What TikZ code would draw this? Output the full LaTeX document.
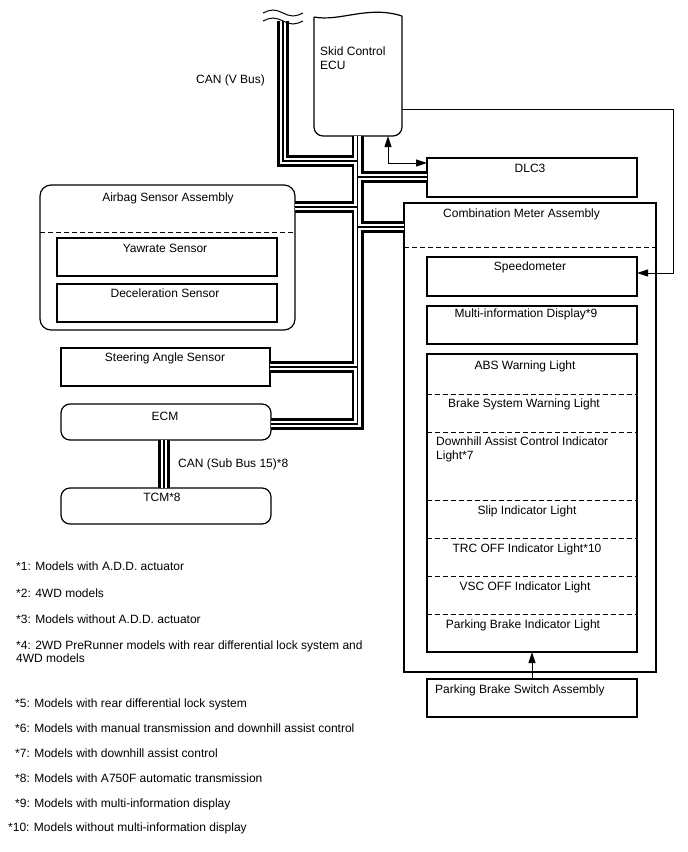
\documentclass[tikz,border=0pt]{standalone}
\usepackage{fontspec}
\setmainfont{Liberation Sans}
\usetikzlibrary{arrows.meta,calc}
\begin{document}
\begin{tikzpicture}[x=1pt,y=-1pt,
  font=\fontsize{12}{14}\selectfont,
  box/.style={draw, line width=1.2pt, inner sep=0pt, outer sep=0pt, anchor=north west},
  rbox/.style={box, rounded corners=9pt},
  txt/.style={inner sep=0pt, anchor=base},
  ltxt/.style={inner sep=0pt, anchor=base west},
  rtxt/.style={inner sep=0pt, anchor=base east},
  sepline/.style={line width=1pt, dash pattern=on 5pt off 3pt},
  wire/.style={line width=1pt},
  tip/.style={-{Triangle[length=11pt,width=7pt]}},
  dtip/.style={{Triangle[length=11pt,width=7pt]}-{Triangle[length=11pt,width=7pt]}},
]
\useasboundingbox (0,0) rectangle (688,852);

% ---------- boxes ----------
\node[box, draw=none, minimum width=88pt, minimum height=120pt] (ecu) at (314,16) {};
\node[box, minimum width=210pt, minimum height=39pt] (dlc) at (427,158) {};
\node[box, minimum width=252pt, minimum height=469pt] (comb) at (404,203) {};
\node[box, minimum width=210pt, minimum height=39pt] (speedo) at (427,257) {};
\node[box, minimum width=210pt, minimum height=38pt] (mid) at (427,306) {};
\node[box, minimum width=210pt, minimum height=298pt] (lights) at (427,354) {};
\node[box, minimum width=210pt, minimum height=38pt] (pbsw) at (427,679) {};
\node[rbox, rounded corners=11pt, minimum width=255pt, minimum height=145pt] (airbag) at (40,185) {};
\node[box, minimum width=220pt, minimum height=38pt] (yaw) at (57,238) {};
\node[box, minimum width=220pt, minimum height=38pt] (decel) at (57,284) {};
\node[box, minimum width=209pt, minimum height=38pt] (steer) at (61,348) {};
\node[rbox, minimum width=210pt, minimum height=36pt] (ecm) at (61,404) {};
\node[rbox, minimum width=210pt, minimum height=36pt] (tcm) at (61,488) {};

% Skid Control ECU outline (wavy top, rounded bottom)
\draw[line width=1.2pt, rounded corners=9pt] (ecu.north east) -- (ecu.south east) -- (ecu.south west) -- ($(ecu.north west)+(0,1)$);
\draw[line width=1.2pt] ($(ecu.north west)+(0,1)$) .. controls (340,22) and (368,5) .. (ecu.north east);

% dashed separators
\draw[sepline] (airbag.west |- 0,232) -- (airbag.east |- 0,232);
\draw[sepline] (comb.west |- 0,247) -- (comb.east |- 0,247);
\foreach \yy in {394,432,500,538,576,614}{
  \draw[sepline] (lights.west |- 0,\yy) -- (lights.east |- 0,\yy);
}

% ---------- CAN bus ----------
\coordinate (b0) at (283,21);
\coordinate (b1) at (283,161);
\coordinate (b2) at (357.5,161);
\coordinate (t0) at (357.5,136);
\coordinate (t1) at (357.5,424);
\coordinate (jd) at (357.5,177);
\coordinate (ja) at (357.5,207);
\coordinate (jc) at (357.5,227);
\coordinate (js) at (357.5,367);
\coordinate (sb) at (164,464);
\foreach \w/\c in {12/black,6.5/white,1.1/black}{
  \begin{scope}[line width=\w pt, draw=\c, line join=miter]
    \draw (b0) -- (b1) -- (b2);
    \draw (t0) -- (t1) -- (ecm.east |- t1);
    \draw (jd) -- (dlc.west |- jd);
    \draw (ja) -- (airbag.east |- ja);
    \draw (jc) -- (comb.west |- jc);
    \draw (js) -- (steer.east |- js);
    \draw (ecm.south -| sb) -- (tcm.north -| sb);
  \end{scope}
}
% wave break symbol
\draw[wire] (263,13) sin (273,10) cos (283,13) sin (293,16) cos (303,13);
\draw[wire] (263,21) sin (273,18) cos (283,21) sin (293,24) cos (303,21);

% ---------- thin connectors ----------
\coordinate (er) at (402,109);
\coordinate (rc1) at (673,109);
\coordinate (rc2) at (673,273);
\draw[wire, tip] (er) -- (rc1) -- (rc2) -- (speedo.east |- rc2);
\coordinate (dk) at (388,163);
\draw[wire, dtip] (ecu.south -| dk) -- (dk) -- (dlc.west |- dk);
\draw[wire, tip] (pbsw.north) -- (lights.south);

% ---------- texts ----------
\node[ltxt] (tskid) at (320,55) {Skid Control};
\node[ltxt] (tecu) at (320,69) {ECU};
\node[rtxt] (tcanv) at (265,83) {CAN (V Bus)};
\node[txt] (tdlc) at (530,172) {DLC3};
\node[ltxt] (tcomb) at (443,217) {Combination Meter Assembly};
\node[txt] (tspeedo) at (530,270) {Speedometer};
\node[txt] (tmid) at (526,317) {Multi-information Display*9};
\node[txt] (tabs) at (525,369) {ABS Warning Light};
\node[txt] (tbrk) at (524,407) {Brake System Warning Light};
\node[ltxt] (tdh1) at (436,445) {Downhill Assist Control Indicator};
\node[ltxt] (tdh2) at (436,459) {Light*7};
\node[txt] (tslip) at (527,514) {Slip Indicator Light};
\node[txt] (ttrc) at (527,552) {TRC OFF Indicator Light*10};
\node[txt] (tvsc) at (525,590) {VSC OFF Indicator Light};
\node[txt] (tpbi) at (523,628) {Parking Brake Indicator Light};
\node[ltxt] (tpbs) at (435,693) {Parking Brake Switch Assembly};
\node[txt] (tair) at (168,201) {Airbag Sensor Assembly};
\node[txt] (tyaw) at (165,252) {Yawrate Sensor};
\node[txt] (tdec) at (165,297) {Deceleration Sensor};
\node[txt] (tstr) at (165,361) {Steering Angle Sensor};
\node[txt] (tecm) at (165,420) {ECM};
\node[txt] (ttcm) at (162,501) {TCM*8};
\node[ltxt] (tcans) at (178,467) {CAN (Sub Bus 15)*8};

% legend
\node[ltxt] (n1) at (16,570) {*1: Models with A.D.D. actuator};
\node[ltxt] (n2) at (16,597) {*2: 4WD models};
\node[ltxt] (n3) at (16,623) {*3: Models without A.D.D. actuator};
\node[ltxt] (n4a) at (16,649) {*4: 2WD PreRunner models with rear differential lock system and};
\node[ltxt] (n4b) at (16,662) {4WD models};
\node[ltxt] (n5) at (15,707) {*5: Models with rear differential lock system};
\node[ltxt] (n6) at (15,732) {*6: Models with manual transmission and downhill assist control};
\node[ltxt] (n7) at (15,757) {*7: Models with downhill assist control};
\node[ltxt] (n8) at (15,782) {*8: Models with A750F automatic transmission};
\node[ltxt] (n9) at (15,807) {*9: Models with multi-information display};
\node[ltxt] (n10) at (8,831) {*10: Models without multi-information display};
\end{tikzpicture}
\end{document}
